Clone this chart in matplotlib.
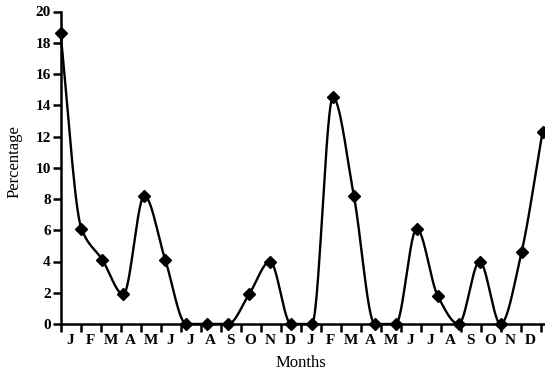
import numpy as np
import matplotlib
matplotlib.use("Agg")
import matplotlib.pyplot as plt
from matplotlib.ticker import FixedLocator, NullFormatter

# percentage per month over two years
month_labels = ['J', 'F', 'M', 'A', 'M', 'J', 'J', 'A', 'S', 'O', 'N', 'D'] * 2
percentage = [18.6, 6.1, 4.1, 1.9, 8.2, 4.1, 0.0, 0.0, 0.0, 1.9, 4.0, 0.0,
              0.0, 14.5, 8.2, 0.0, 0.0, 6.1, 1.8, 0.0, 4.0, 0.0, 4.6, 12.3]


def smooth_curve(x, y, n_seg=30):
    # monotone cubic (Fritsch-Carlson) so the line never overshoots
    x = np.asarray(x, float)
    y = np.asarray(y, float)
    h = np.diff(x)
    d = np.diff(y) / h
    m = np.zeros_like(y)
    m[0], m[-1] = d[0], d[-1]
    for i in range(1, len(y) - 1):
        if d[i - 1] * d[i] > 0:
            w1 = 2 * h[i] + h[i - 1]
            w2 = h[i] + 2 * h[i - 1]
            m[i] = (w1 + w2) / (w1 / d[i - 1] + w2 / d[i])
    xs, ys = [], []
    t = np.linspace(0, 1, n_seg, endpoint=False)
    for i in range(len(y) - 1):
        h00 = 2 * t ** 3 - 3 * t ** 2 + 1
        h10 = t ** 3 - 2 * t ** 2 + t
        h01 = -2 * t ** 3 + 3 * t ** 2
        h11 = t ** 3 - t ** 2
        xs.append(x[i] + t * h[i])
        ys.append(h00 * y[i] + h10 * h[i] * m[i] + h01 * y[i + 1] + h11 * h[i] * m[i + 1])
    xs.append([x[-1]])
    ys.append([y[-1]])
    return np.concatenate(xs), np.concatenate(ys)


n = len(percentage)
# points are spread slightly wider than the month ticks, as in the original
xpos = np.arange(n) * 24.1 / (n - 1)

W, H = 545, 373
fig = plt.figure(figsize=(W / 100, H / 100), dpi=100)
left, right, bottom, top = 60.5, 545, 324, 11.5
ax = fig.add_axes([left / W, (H - bottom) / H, (right - left) / W, (bottom - top) / H])

sx, sy = smooth_curve(xpos, percentage)
ax.plot(sx, sy, color='black', lw=1.7, clip_on=False, zorder=3)
ax.plot(xpos, percentage, linestyle='none', marker='D', markersize=6.5,
        color='black', clip_on=False, zorder=4)

ax.set_xlim(0, (right - left) / 20.0)
ax.set_ylim(0, 20)

for s in ('top', 'right'):
    ax.spines[s].set_visible(False)
for s in ('left', 'bottom'):
    ax.spines[s].set_linewidth(1.8)

ax.xaxis.set_major_locator(FixedLocator(np.arange(0, 25)))
ax.xaxis.set_major_formatter(NullFormatter())
ax.xaxis.set_minor_locator(FixedLocator(np.arange(0, 24) + 0.5))
ax.set_xticklabels(month_labels, minor=True)
ax.tick_params(axis='x', which='major', direction='out', length=6, width=1.8)
ax.tick_params(axis='x', which='minor', length=0, pad=7.5)

ax.set_yticks(np.arange(0, 21, 2))
ax.tick_params(axis='y', direction='out', length=6, width=1.8, pad=1)

tick_font = dict(family='Liberation Serif', weight='bold', size=11)
for lab in ax.get_xticklabels(minor=True) + ax.get_yticklabels():
    lab.set_fontfamily(tick_font['family'])
    lab.set_fontweight(tick_font['weight'])
    lab.set_fontsize(tick_font['size'])

fig.text(301 / W, 1 - 363 / H, 'Months', family='Liberation Serif', size=12,
         ha='center', va='center')
fig.text(15 / W, 1 - 162 / H, 'Percentage', family='Liberation Serif', size=12,
         ha='center', va='center', rotation=90)

fig.savefig('out.png', dpi=100)
